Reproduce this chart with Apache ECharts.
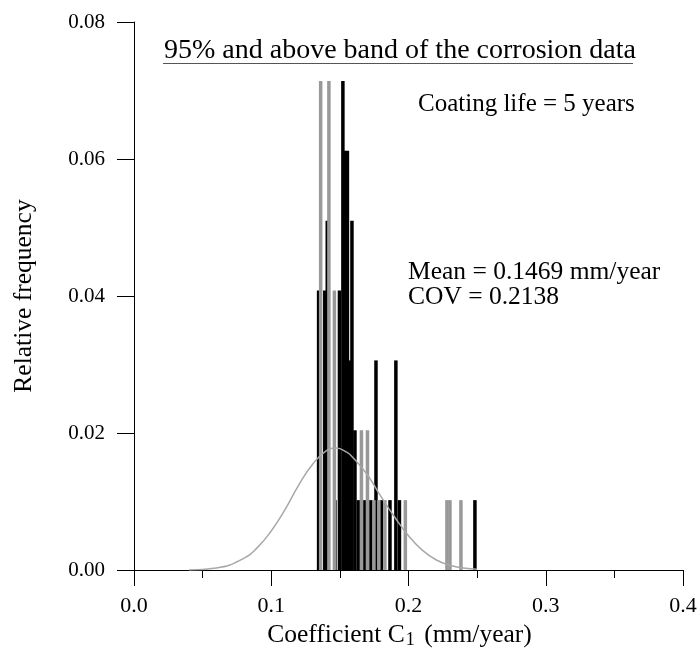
<!DOCTYPE html>
<html>
<head>
<meta charset="utf-8">
<script src="https://cdn.jsdelivr.net/npm/echarts@6/dist/echarts.min.js"></script>
<style>
  html, body { margin: 0; padding: 0; background: #fff; }
  #chart { width: 697px; height: 650px; }
</style>
</head>
<body>
<div id="chart"></div>
<script>
// relative frequency bars, [C1, frequency]
const blackBars = [
  [0.1345, 0.0408], [0.1390, 0.0408], [0.1408, 0.0510],
  [0.1464, 0.0102], [0.1497, 0.0408], [0.1522, 0.0714],
  [0.1533, 0.0612], [0.1555, 0.0612], [0.1573, 0.0306],
  [0.1588, 0.0510], [0.1610, 0.0204], [0.1635, 0.0102],
  [0.1682, 0.0102], [0.1726, 0.0102], [0.1763, 0.0306],
  [0.1803, 0.0102], [0.1865, 0.0102], [0.1908, 0.0306],
  [0.1934, 0.0102], [0.2484, 0.0102]
];
const grayBars = [
  [0.1360, 0.0714], [0.1420, 0.0714], [0.1460, 0.0408],
  [0.1657, 0.0204], [0.1701, 0.0204], [0.1748, 0.0102],
  [0.1784, 0.0102], [0.1828, 0.0102], [0.1977, 0.0102],
  [0.2280, 0.0102], [0.2302, 0.0102], [0.2382, 0.0102]
];
// fitted curve
const curveX = [0.04, 0.06, 0.08, 0.09, 0.10, 0.11, 0.12, 0.13, 0.14, 0.147, 0.155, 0.16, 0.17, 0.18, 0.19, 0.20, 0.21, 0.22, 0.23, 0.24, 0.25];
const curveY = [0.0000, 0.0003, 0.0017, 0.0033, 0.0057, 0.0088, 0.0124, 0.0154, 0.0174, 0.0178, 0.0172, 0.0163, 0.0139, 0.0107, 0.0077, 0.0050, 0.0029, 0.0015, 0.0007, 0.0003, 0.0001];
const xTicks = [0, 0.1, 0.2, 0.3, 0.4];
const yTicks = [0, 0.02, 0.04, 0.06, 0.08];

const serif = 'Liberation Serif';
const chart = echarts.init(document.getElementById('chart'), null, { renderer: 'canvas' });

chart.setOption({
  animation: false,
  grid: { left: 134, right: 14, top: 22, bottom: 80, containLabel: false, outerBoundsMode: 'none' },
  xAxis: {
    type: 'value',
    min: xTicks[0], max: xTicks[xTicks.length - 1], interval: 0.1,
    splitLine: { show: false },
    axisLine: { lineStyle: { color: '#000', width: 1 } },
    axisTick: { inside: false, length: 16, lineStyle: { color: '#000' } },
    minorTick: { show: true, splitNumber: 2, length: 8, lineStyle: { color: '#000' } },
    axisLabel: { margin: 25, color: '#000', fontFamily: serif, fontSize: 22, formatter: v => v.toFixed(1) },
    name: '{a|Coefficient C}{s|1}{a| (mm/year)}',
    nameLocation: 'middle', nameGap: 50,
    nameTextStyle: {
      padding: [0, 18, 0, 0],
      rich: {
        a: { fontFamily: serif, fontSize: 25.5, color: '#000' },
        s: { fontFamily: serif, fontSize: 18, color: '#000', verticalAlign: 'bottom', padding: [10, 3, 0, 1] }
      }
    }
  },
  yAxis: {
    type: 'value',
    min: yTicks[0], max: yTicks[yTicks.length - 1], interval: 0.02,
    splitLine: { show: false },
    axisLine: { show: true, lineStyle: { color: '#000', width: 1 } },
    axisTick: { show: true, length: 17, lineStyle: { color: '#000' } },
    axisLabel: { margin: 29, color: '#000', fontFamily: serif, fontSize: 21, formatter: v => v.toFixed(2) },
    name: 'Relative frequency',
    nameLocation: 'middle', nameGap: 97,
    nameTextStyle: { fontFamily: serif, fontSize: 25.5, color: '#000' }
  },
  series: [
    {
      type: 'bar', data: blackBars, barWidth: 3.5, barGap: '-100%',
      itemStyle: { color: '#000' }, silent: true
    },
    {
      type: 'bar', data: grayBars, barWidth: 3.5, barGap: '-100%',
      itemStyle: { color: '#999' }, silent: true
    },
    {
      type: 'line', data: curveX.map((x, i) => [x, curveY[i]]),
      smooth: true, symbol: 'none', z: 5,
      lineStyle: { color: '#a8a8a8', width: 1.5 }
    }
  ],
  graphic: [
    { type: 'text', left: 164, top: 37, style: { text: '95% and above band of the corrosion data', font: '28px "Liberation Serif"', fill: '#000' } },
    { type: 'line', shape: { x1: 163, y1: 63.5, x2: 633, y2: 63.5 }, style: { stroke: '#555', lineWidth: 1 } },
    { type: 'text', left: 418, top: 92, style: { text: 'Coating life = 5 years', font: '25px "Liberation Serif"', fill: '#000' } },
    { type: 'text', left: 408, top: 259, style: { text: 'Mean = 0.1469 mm/year\nCOV = 0.2138', font: '25.5px "Liberation Serif"', lineHeight: 25, fill: '#000' } }
  ]
});
</script>
</body>
</html>
